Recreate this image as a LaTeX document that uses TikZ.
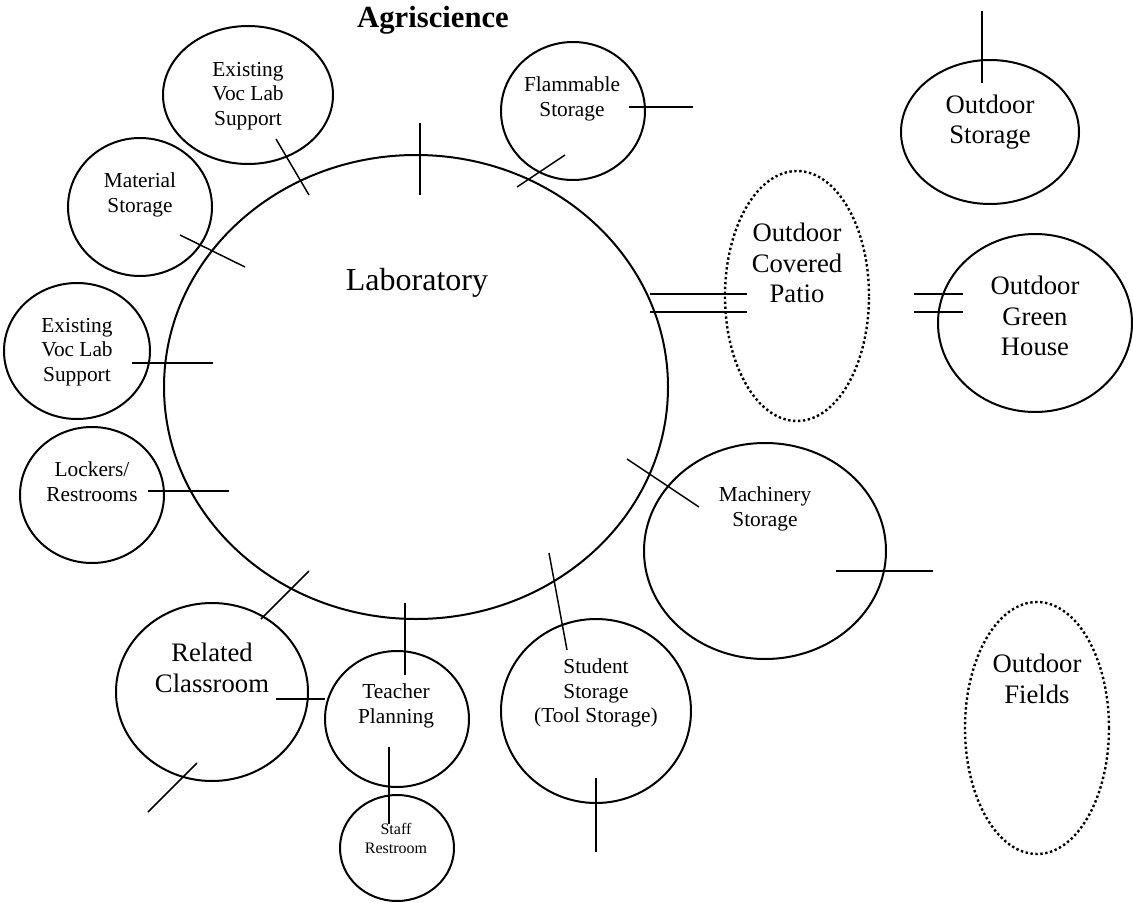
\documentclass[tikz,border=0pt]{standalone}
\usepackage{fontspec}
\setmainfont{Liberation Serif}
\usetikzlibrary{shapes, calc, positioning}
\tikzstyle{room} = [draw, ellipse, line width=1.5pt, inner sep=0pt]
\tikzstyle{open} = [draw, ellipse, line width=1.8pt, dash pattern=on 1.8pt off 1.9pt, inner sep=0pt]
\tikzstyle{tick} = [line width=1.1pt]
\tikzstyle{txt} = [align=center, inner sep=0pt, font=\fontsize{16}{18.5}\selectfont]
\tikzstyle{bigtxt} = [align=center, inner sep=0pt, font=\fontsize{20}{23}\selectfont]
\tikzset{rad/.style 2 args={minimum width=#1*1.5pt, minimum height=#2*1.5pt}}

\begin{document}
\begin{tikzpicture}[x=0.75pt,y=-0.75pt]
\useasboundingbox (0,0) rectangle (1133,903);
\node [txt, font=\fontsize{23}{27}\selectfont\bfseries] (title) at (433,20) {Agriscience};

% laboratory
\node [room, rad={252}{232}] (lab) at (416,387) {};
\node [txt, font=\fontsize{24}{28}\selectfont] (labt) at (417,283) {Laboratory};
\draw [tick] (420,123) -- (420,195);

% left side rooms
\node [room, rad={85}{69}] (voc1) at (248,95) {};
\node [txt] (voc1t) at (248,96) {Existing\\Voc Lab\\Support};
\draw [tick] (276,139) -- (309,195);
\node [room, rad={72}{69}] (mat) at (140,207) {};
\node [txt] (matt) at (140,195) {Material\\Storage};
\draw [tick] (180,235) -- (245,267);
\node [room, rad={73}{68}] (voc2) at (77,351) {};
\node [txt] (voc2t) at (77,352) {Existing\\Voc Lab\\Support};
\draw [tick] (132,363) -- (213,363);
\node [room, rad={72}{68}] (lock) at (92,495) {};
\node [txt] (lockt) at (92,482) {Lockers/\\Restrooms};
\draw [tick] (148,491) -- (229,491);

% top right
\node [room, rad={72}{69}] (flam) at (573,111) {};
\node [txt] (flamt) at (572,99) {Flammable\\Storage};
\draw [tick] (629,107) -- (693,107);
\draw [tick] (517,187) -- (565,155);
\node [room, rad={89}{72}] (ostor) at (990,132) {};
\node [bigtxt] (ostort) at (990,122) {Outdoor\\Storage};
\draw [tick] (982,11) -- (982,83);

% outdoor patio and green house
\node [open, rad={72}{125}] (patio) at (797,296) {};
\node [bigtxt] (patiot) at (797,263) {Outdoor\\Covered\\Patio};
\draw [tick] (650,294) -- (747,294);
\draw [tick] (650,312) -- (747,312);
\node [room, rad={97}{89}] (green) at (1035,323) {};
\node [bigtxt] (greent) at (1035,316) {Outdoor\\Green\\House};
\draw [tick] (914,294) -- (963,294);
\draw [tick] (914,312) -- (963,312);

% lower right
\node [room, rad={121}{108}] (mach) at (765,551) {};
\node [txt] (macht) at (765,509) {Machinery\\Storage};
\draw [tick] (627,459) -- (699,507);
\draw [tick] (836,571) -- (933,571);
\node [open, rad={72}{126}] (field) at (1037,728) {};
\node [bigtxt] (fieldt) at (1037,679) {Outdoor\\Fields};

% bottom
\node [room, rad={95}{92}] (stud) at (596,711) {};
\node [txt] (studt) at (596,693) {Student\\Storage\\(Tool Storage)};
\draw [tick] (549,553) -- (567,650);
\draw [tick] (596,778) -- (596,852);
\node [room, rad={96}{89}] (class) at (212,692) {};
\node [bigtxt] (classt) at (212,668) {Related\\Classroom};
\draw [tick] (309,571) -- (261,619);
\draw [tick] (197,763) -- (148,812);
\draw [tick] (276,699) -- (325,699);
\node [room, rad={72}{68}] (teach) at (397,719) {};
\node [txt] (teacht) at (396,706) {Teacher\\Planning};
\draw [tick] (405,603) -- (405,675);
\node [room, rad={57}{53}] (staff) at (397,848) {};
\node [txt, font=\fontsize{12}{14.3}\selectfont] (stafft) at (396,838) {Staff\\Restroom};
\draw [tick] (389,747) -- (389,824);
\end{tikzpicture}
\end{document}
